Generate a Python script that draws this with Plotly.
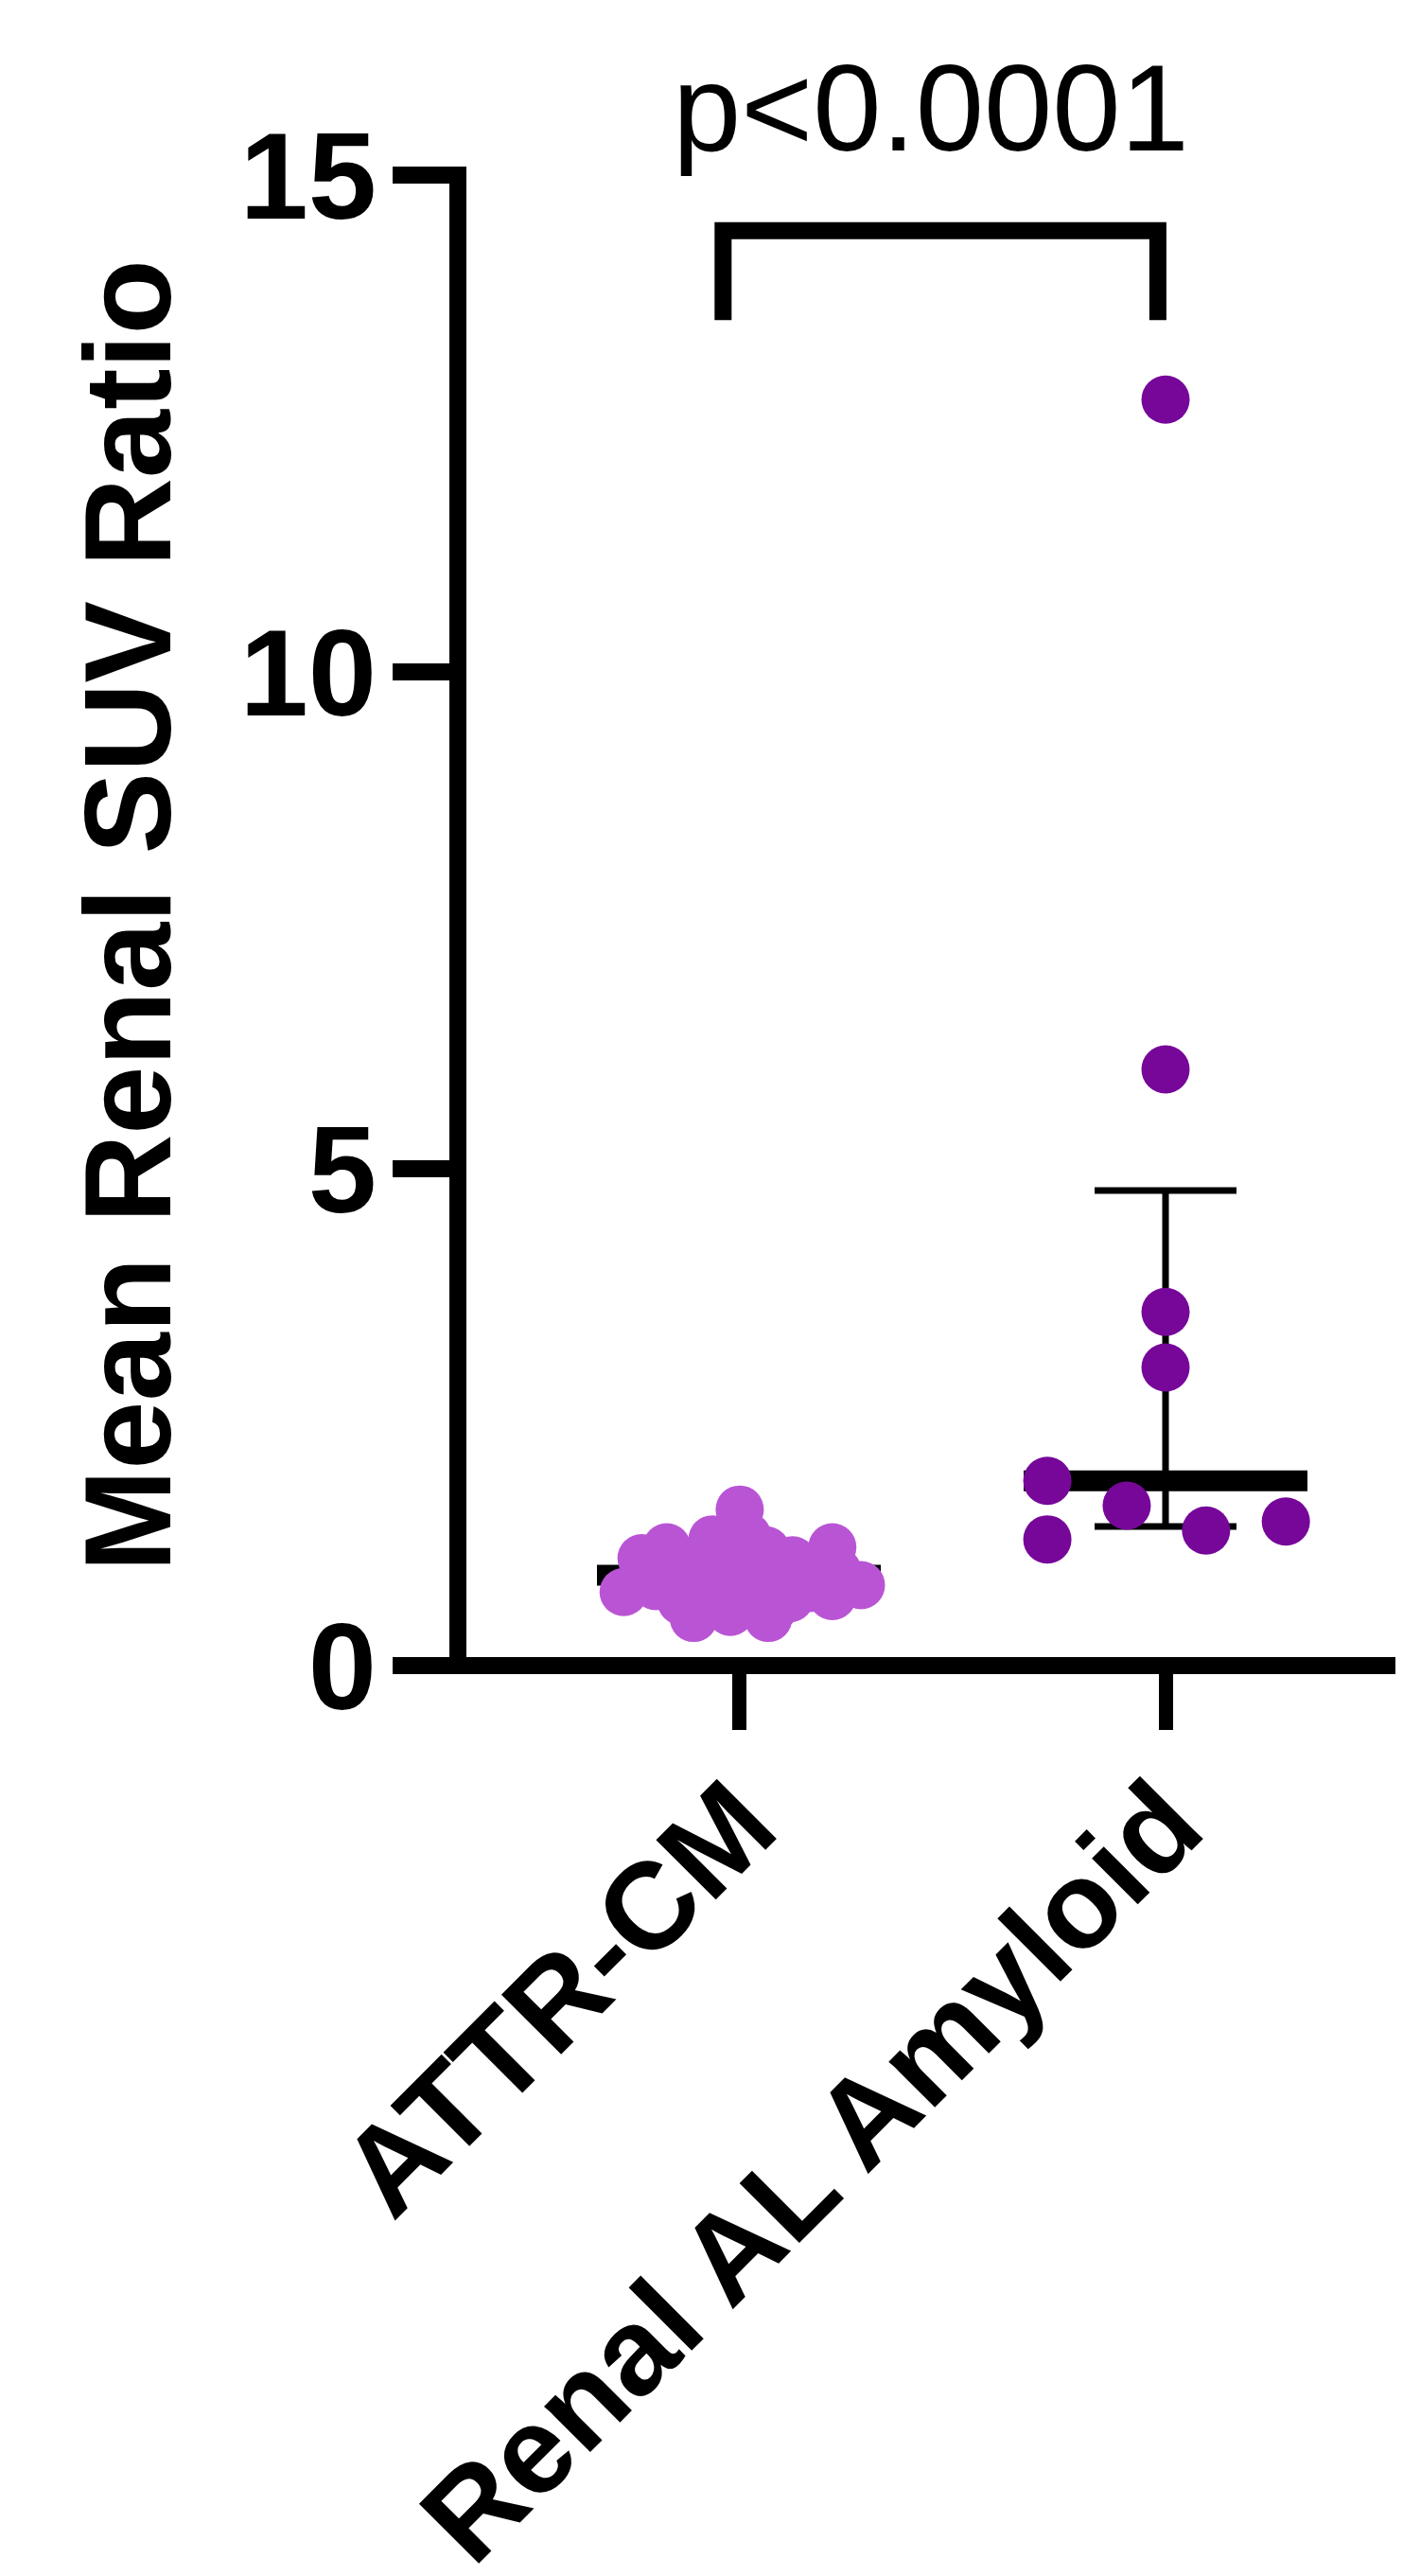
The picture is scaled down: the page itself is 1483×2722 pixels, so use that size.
import numpy as np
import plotly.graph_objects as go

# ---------------- data ----------------
categories = ["ATTR-CM", "Renal AL Amyloid"]
y_ticks = [0, 5, 10, 15]

# ATTR-CM individual values and their horizontal scatter offsets (category units)
attr_values = [1.57, 1.27, 1.16, 1.19, 1.08, 0.74, 0.80, 0.48, 0.54, 0.48,
               1.06, 1.19, 0.81, 0.70, 1.05, 1.00, 0.98, 0.90, 0.88, 0.85,
               0.88, 0.92, 0.95, 0.70, 0.72, 0.70, 0.68, 0.65, 0.78, 1.30,
               1.15, 0.90, 1.00, 0.95, 0.60, 0.60]
attr_jitter = [0.002, -0.062, 0.064, -0.169, -0.228, -0.270, -0.195, -0.106, -0.020, 0.069,
               0.126, 0.219, 0.286, 0.219, -0.091, -0.024, 0.042, -0.113, -0.047, 0.020,
               0.086, 0.153, -0.180, -0.080, -0.013, 0.053, 0.120, -0.135, 0.164, 0.020,
               -0.047, -0.224, 0.175, 0.231, -0.064, 0.086]

# Renal AL Amyloid individual values and scatter offsets
al_values = [12.74, 6.00, 3.56, 3.00, 1.86, 1.27, 1.61, 1.36, 1.45]
al_jitter = [0.0, 0.0, 0.0, 0.0, -0.277, -0.277, -0.091, 0.095, 0.282]

# summary (median with interquartile range)
medians = [0.91, 1.86]
q1 = [0.72, 1.40]
q3 = [1.08, 4.78]

p_text = "p<0.0001"
y_title = "Mean Renal SUV Ratio"

col_attr = "#B955D4"
col_al = "#760799"

OFF = 8                      # default page body margin
W, H = 1483 - OFF, 2722 - OFF
PL, PT = 484, 185            # page position of plot-area left / top
ML, MT = PL - OFF, PT - OFF
plot_w = W - ML
plot_h = 1575
MB = H - MT - plot_h
unit = 451.0
x0 = -(781 - PL) / unit
xr = [x0, x0 + plot_w / unit]

FONT = "Liberation Sans, Arial, sans-serif"

def px_to_paper_x(px):
    return (px - PL) / plot_w

def px_to_paper_y(py):
    return (PT + plot_h - py) / plot_h

fig = go.Figure()

# whiskers (IQR) with caps
fig.add_trace(go.Scatter(
    x=[0, 1], y=medians, mode="markers",
    marker=dict(size=1, opacity=0),
    error_y=dict(type="data", symmetric=False,
                 array=[q3[i] - medians[i] for i in range(2)],
                 arrayminus=[medians[i] - q1[i] for i in range(2)],
                 color="black", thickness=7, width=75),
    showlegend=False, hoverinfo="skip"))

# median bars
for i, m in enumerate(medians):
    fig.add_trace(go.Scatter(
        x=[i - 0.3326, i + 0.3326], y=[m, m], mode="lines",
        line=dict(color="black", width=22), showlegend=False, hoverinfo="skip"))

# points
fig.add_trace(go.Scatter(
    x=[0 + j for j in attr_jitter], y=attr_values, mode="markers",
    marker=dict(size=51, color=col_attr, line=dict(width=0)),
    showlegend=False))
fig.add_trace(go.Scatter(
    x=[1 + j for j in al_jitter], y=al_values, mode="markers",
    marker=dict(size=51, color=col_al, line=dict(width=0)),
    showlegend=False))

# significance bracket
bx0, bx1 = -0.037, 0.982
by_top, by_bot = 14.44, 13.54
fig.add_shape(type="path", xref="x", yref="y",
              path=f"M {bx0},{by_bot} L {bx0},{by_top} L {bx1},{by_top} L {bx1},{by_bot}",
              line=dict(color="black", width=18))

# p value
fig.add_annotation(x=0.45, y=px_to_paper_y(114), xref="x", yref="paper", text=p_text,
                   showarrow=False, xanchor="center", yanchor="middle",
                   font=dict(family=FONT, size=130, color="black"))

# axis title
fig.add_annotation(x=px_to_paper_x(135), y=px_to_paper_y(968), xref="paper", yref="paper",
                   text=y_title, textangle=-90, showarrow=False,
                   xanchor="center", yanchor="middle",
                   font=dict(family=FONT, size=130, color="black", weight="bold"))

# axis lines drawn as shapes (centered on the value positions)
fig.add_shape(type="line", xref="paper", yref="paper",
              x0=0, x1=0, y0=-9 / plot_h, y1=1 + 9 / plot_h,
              line=dict(color="black", width=18), layer="above")
fig.add_shape(type="line", xref="paper", yref="paper",
              x0=px_to_paper_x(416), x1=1.0, y0=0, y1=0,
              line=dict(color="black", width=18), layer="above")

fig.update_layout(
    template="none",
    width=W, height=H,
    margin=dict(l=ML, r=0, t=MT, b=MB, pad=0, autoexpand=False),
    paper_bgcolor="white", plot_bgcolor="white",
    showlegend=False,
    xaxis=dict(range=xr, tickmode="array", tickvals=[0, 1], ticktext=categories,
               tickangle=-45, ticks="outside", ticklen=67, tickwidth=15,
               tickcolor="black", showline=False, showgrid=False, zeroline=False,
               automargin=False, ticklabelstandoff=-28,
               tickfont=dict(family=FONT, size=130, color="black", weight="bold")),
    yaxis=dict(range=[0, 15], tickmode="array", tickvals=y_ticks,
               ticktext=[str(v) for v in y_ticks],
               ticks="outside", ticklen=68, tickwidth=18, tickcolor="black",
               showline=False, showgrid=False, zeroline=False, automargin=False,
               ticklabelstandoff=-9,
               tickfont=dict(family=FONT, size=130, color="black", weight="bold")),
)

fig.write_html("out.html")
